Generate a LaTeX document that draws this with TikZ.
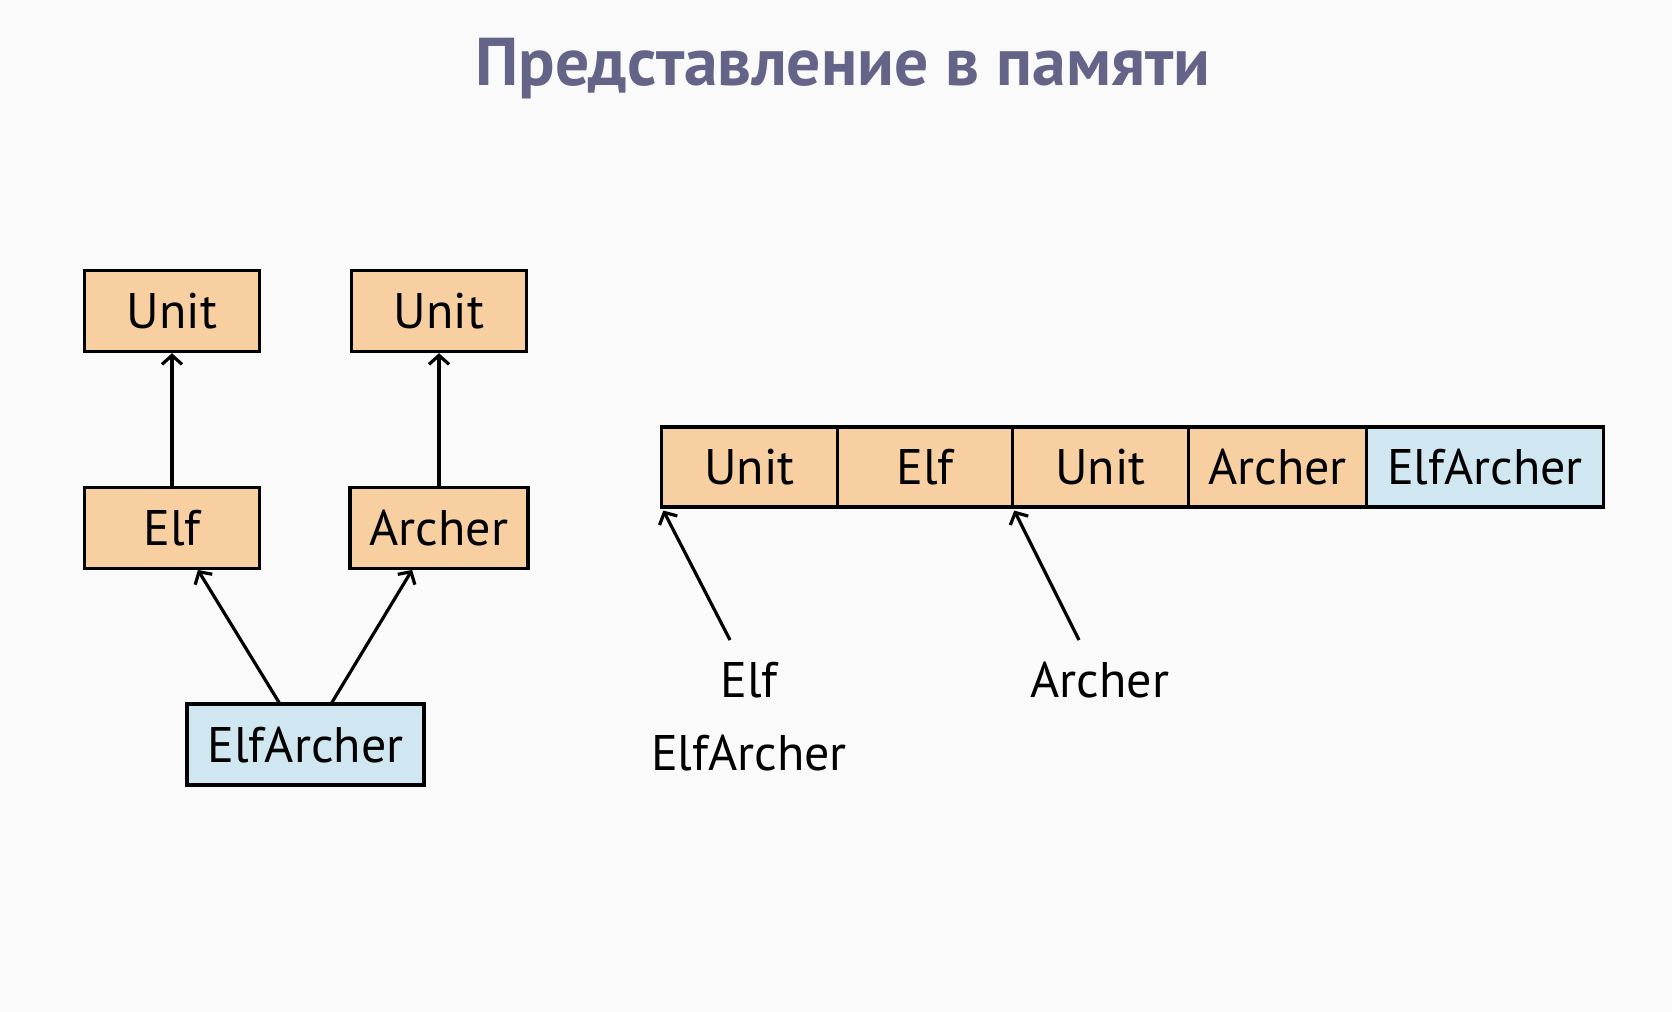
\documentclass[tikz,border=0pt]{standalone}
\usepackage{fontspec}
\setmainfont{PT Sans}
\usetikzlibrary{arrows.meta,positioning}
\definecolor{peach}{HTML}{F8CFA0}
\definecolor{paleblue}{HTML}{D0E6F0}
\definecolor{slate}{HTML}{636488}
\definecolor{pagebg}{HTML}{FAFAFA}

\begin{document}
\begin{tikzpicture}[x=0.5pt,y=-0.5pt,>={Straight Barb[length=4.5pt,width=10pt]},
  cls/.style={draw,line width=1.7pt,fill=peach,minimum width=87.5pt,minimum height=40.5pt,
    inner sep=0pt,outer sep=0pt,font=\fontsize{25}{30}\selectfont,text height=17.5pt,text depth=0pt},
  derived/.style={cls,fill=paleblue},
  lbl/.style={font=\fontsize{25}{30}\selectfont,anchor=base},
  link/.style={->,line width=1.6pt,shorten >=0.85pt}]
  % background
  \fill[pagebg] (0,0) rectangle (1672,1012);

  % Title
  \node[font=\fontsize{33.8}{40}\selectfont\bfseries,text=slate,anchor=base]
    (title) at (843,85) {Представление в памяти};

  % Hierarchy
  \node[cls] (U1) at (172,311) {Unit};
  \node[cls] (U2) at (439,311) {Unit};
  \node[cls] (Elf) at (172,528) {Elf};
  \node[cls,minimum width=89pt] (Arch) at (439,528) {Archer};
  \node[derived,minimum width=118.5pt] (EA) at (305.5,744.5) {ElfArcher};

  % Arrows
  \draw[link] (Elf) -- (U1);
  \draw[link] (Arch) -- (U2);
  \draw[link] ([xshift=-12.75pt]EA.north) -- ([xshift=12.5pt]Elf.south);
  \draw[link] ([xshift=12.75pt]EA.north) -- ([xshift=-13pt]Arch.south);

  % Memory layout
  \node[cls,minimum width=88pt,minimum height=40pt,anchor=west] (m1) at (661.5,467) {Unit};
  \node[cls,minimum height=40pt,right=0pt of m1] (m2) {Elf};
  \node[cls,minimum width=88pt,minimum height=40pt,right=0pt of m2] (m3) {Unit};
  \node[cls,minimum width=89pt,minimum height=40pt,right=0pt of m3] (m4) {Archer};
  \node[derived,minimum width=118.5pt,minimum height=40pt,right=0pt of m4] (m5) {ElfArcher};

  % Pointers
  \coordinate (pElf) at (730,640);
  \coordinate (pArch) at (1079,640);
  \draw[link,shorten >=2pt] (pElf) -- (m1.south west);
  \draw[link,shorten >=2pt] (pArch) -- (m3.south west);

  % Labels
  \node[lbl] (lElf) at (749,697) {Elf};
  \node[lbl] (lEA) at (749,770) {ElfArcher};
  \node[lbl] (lArch) at (1100,697) {Archer};
\end{tikzpicture}
\end{document}
